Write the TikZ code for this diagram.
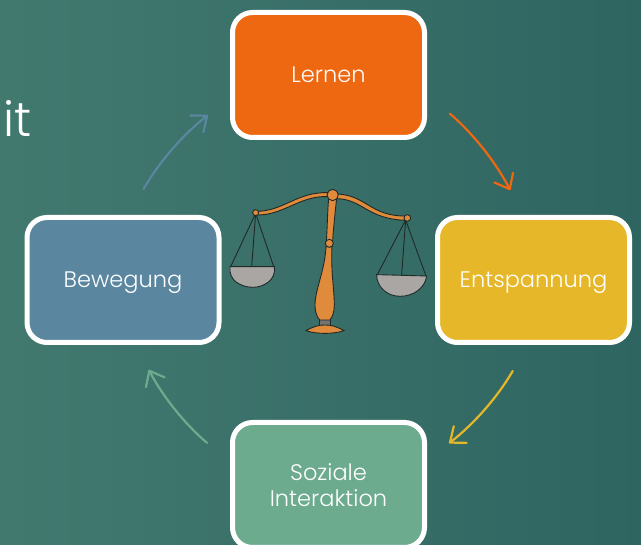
\documentclass[tikz,border=0pt]{standalone}
\usepackage{fontspec}
\setmainfont{Poppins}[UprightFont=* Light]
\usetikzlibrary{arrows.meta}
\definecolor{bgleft}{HTML}{42796F}
\definecolor{bgright}{HTML}{2F6561}
\definecolor{lernfill}{HTML}{EE6711}
\definecolor{spannfill}{HTML}{E6B729}
\definecolor{bewegfill}{HTML}{5A879F}
\definecolor{sozialfill}{HTML}{6DAB8F}
\definecolor{brass}{HTML}{E08A3C}
\definecolor{pan}{HTML}{A9A6A4}
\definecolor{inkline}{HTML}{1F2A28}
\tikzset{
  topic/.style={draw=white,line width=5pt,rounded corners=20pt,minimum width=192pt,
    minimum height=125pt,text=white,align=center,text depth=0pt,
    font=\fontsize{22.5}{26}\selectfont},
  flow/.style={line width=2.2pt,line cap=round,
    -{Straight Barb[length=13pt,width=21pt,line width=2.2pt,round]},
    shorten <=30pt,shorten >=28pt},
  metal/.style={fill=brass,draw=inkline,line width=0.9pt},
  dish/.style={fill=pan,draw=inkline,line width=0.9pt},
  cord/.style={draw=inkline,line width=0.9pt},
}
\begin{document}
\begin{tikzpicture}[x=1pt,y=1pt]
    \useasboundingbox (0,0) rectangle (641,545);
    \shade[left color=bgleft,right color=bgright] (0,0) rectangle (641,545);
    \node[text=white,font=\fontsize{48}{48}\selectfont,anchor=base west,inner sep=0pt] (rest) at (3,408) {it};

    \node[topic,fill=lernfill] (lernen) at (328.5,470) {Lernen};
    \node[topic,fill=spannfill] (spannung) at (533.5,265) {Entspannung};
    \node[topic,fill=sozialfill] (sozial) at (328.5,60) {Soziale\\Interaktion};
    \node[topic,fill=bewegfill] (bewegung) at (123,265) {Bewegung};

    \draw[flow,lernfill] (lernen.-11) to[bend left=11] (spannung.99);
    \draw[flow,spannfill] (spannung.265) to[bend left=11] (sozial.14);
    \draw[flow,sozialfill] (sozial.167) to[bend left=11] (bewegung.281);
    \draw[flow,bewegfill] (bewegung.85) to[bend left=11] (lernen.193);

    % scales, in 3x crop coordinates
    \begin{scope}[shift={(220,365)},x=0.3333pt,y=-0.3333pt]
    \draw[cord] (107,100) -- (32,260);
    \draw[cord] (107,100) -- (95,260);
    \draw[cord] (107,100) -- (161,260);
    \draw[cord] (557,120) -- (472,284);
    \draw[cord] (557,120) -- (545,284);
    \draw[cord] (557,120) -- (618,288);
    \draw[dish] (30,260) -- (163,260) .. controls (170,300) and (130,322) .. (100,322)
      .. controls (60,322) and (25,300) .. (30,260) -- cycle;
    \draw[dish] (470,284) -- (620,288) .. controls (615,325) and (580,349) .. (540,349)
      .. controls (500,349) and (470,320) .. (470,284) -- cycle;
    \draw[metal] (107,94) .. controls (190,95) and (230,35) .. (325,38)
      -- (325,50) .. controls (240,45) and (190,108) .. (107,105) -- cycle;
    \draw[metal] (350,42) .. controls (440,45) and (450,110) .. (560,108)
      -- (560,121) .. controls (440,118) and (430,58) .. (350,56) -- cycle;
    \draw[fill=pan!70!black,draw=inkline,line width=0.9pt] (298,415) rectangle (330,438);
    \draw[metal] (258,452) .. controls (280,440) and (295,435) .. (315,435)
      .. controls (335,435) and (350,440) .. (372,452)
      .. controls (340,463) and (290,463) .. (258,452) -- cycle;
    \draw[metal] (318,200) .. controls (315,270) and (285,330) .. (285,375)
      .. controls (285,400) and (295,418) .. (300,420) -- (330,420)
      .. controls (338,410) and (343,395) .. (343,375)
      .. controls (343,330) and (332,270) .. (336,200) -- cycle;
    \draw[metal] (326,55) .. controls (322,100) and (322,150) .. (319,182) -- (338,182)
      .. controls (340,150) and (345,100) .. (350,55) -- cycle;
    \draw[metal] (328,190) circle (12);
    \draw[metal] (338,45) circle (17);
    \draw[metal] (107,98) circle (9);
    \draw[metal] (562,114) circle (10);
    \end{scope}
\end{tikzpicture}
\end{document}
